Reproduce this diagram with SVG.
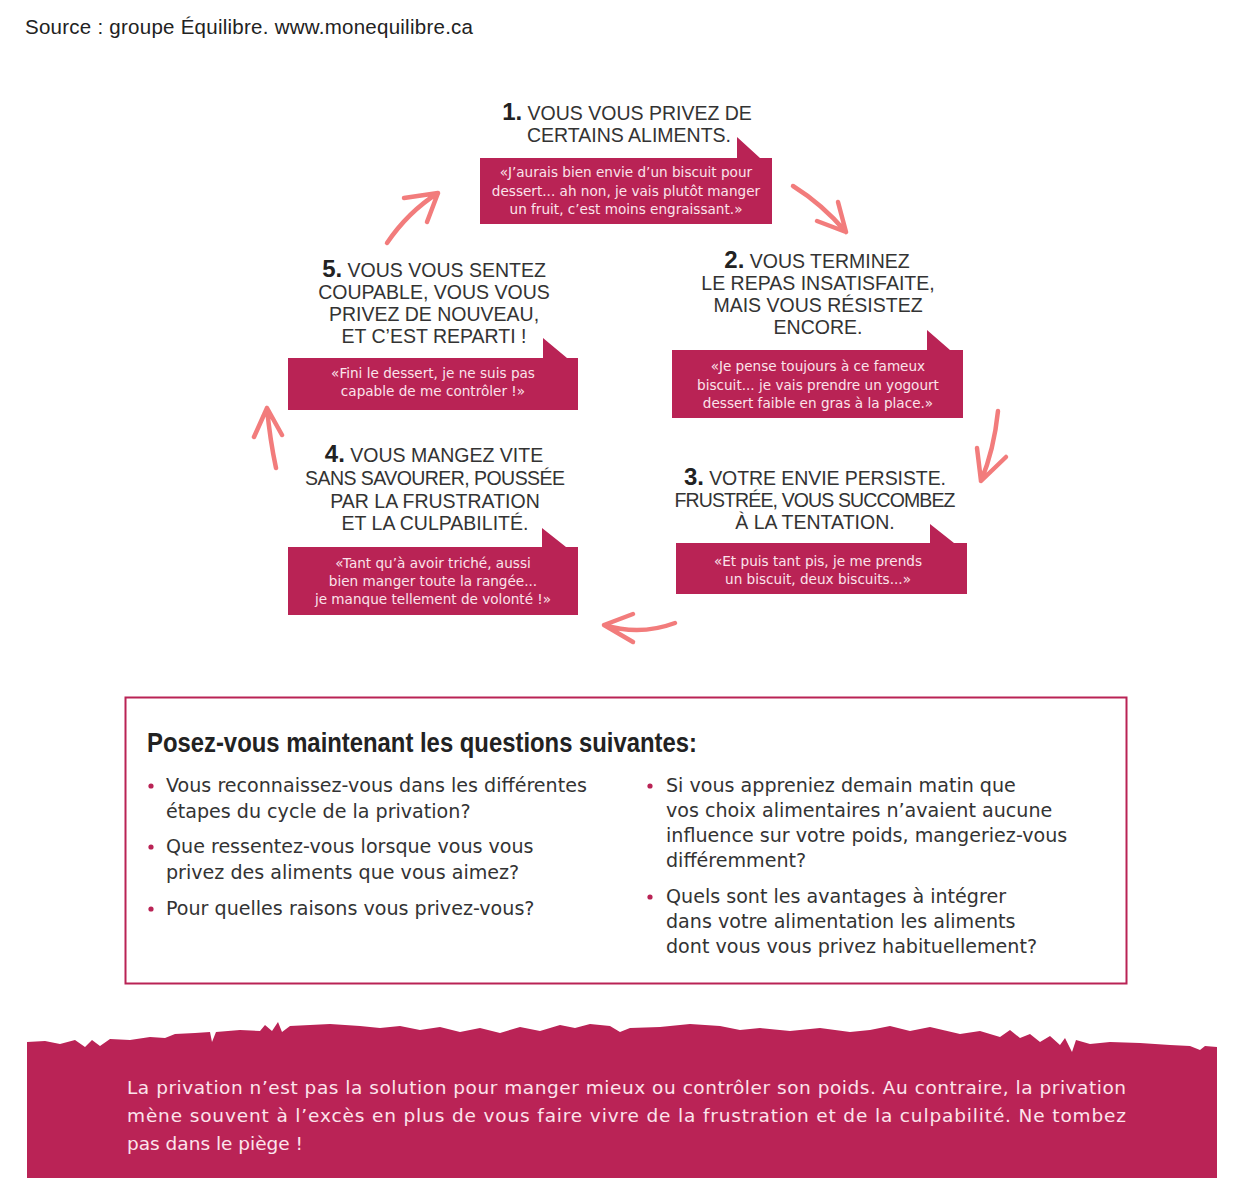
<svg xmlns="http://www.w3.org/2000/svg" width="1236" height="1200" viewBox="0 0 1236 1200">
<style>
.title{font-family:"Liberation Sans",Arial,sans-serif;font-size:19.5px;fill:#333;text-anchor:middle}
.num{font-family:"Liberation Sans",Arial,sans-serif;font-weight:bold;font-size:24px;fill:#222}
.quote{font-family:"DejaVu Sans",Verdana,sans-serif;font-size:13.6px;fill:#FBE3EB;text-anchor:middle}
.box{fill:#B92355}
.q{font-family:"DejaVu Sans",Verdana,sans-serif;font-size:19.1px;fill:#333}
.bul{fill:#B92355}
.ban{font-family:"DejaVu Sans",Verdana,sans-serif;font-size:18.5px;fill:#FCE4EC}
.arr{fill:none;stroke:#F27C7C;stroke-width:4.5;stroke-linecap:round;stroke-linejoin:round}
</style>
<rect width="1236" height="1200" fill="#fff"/>
<text x="25" y="34" font-family="Liberation Sans,Arial,sans-serif" font-size="20.5" fill="#222" textLength="448">Source : groupe Équilibre. www.monequilibre.ca</text>

<g id="node1">
<text class="title" x="627" y="120"><tspan class="num">1.</tspan> VOUS VOUS PRIVEZ DE</text>
<text class="title" x="629" y="142">CERTAINS ALIMENTS.</text>
<path class="box" d="M480,158 L737,158 L737,137 L760,158 L772,158 L772,224 L480,224 Z"/>
<text class="quote" x="626" y="177">«J’aurais bien envie d’un biscuit pour</text>
<text class="quote" x="626" y="196">dessert... ah non, je vais plutôt manger</text>
<text class="quote" x="626" y="214">un fruit, c’est moins engraissant.»</text>
</g>

<g id="node2">
<text class="title" x="817" y="268"><tspan class="num">2.</tspan> VOUS TERMINEZ</text>
<text class="title" x="818" y="290">LE REPAS INSATISFAITE,</text>
<text class="title" x="818" y="312">MAIS VOUS RÉSISTEZ</text>
<text class="title" x="818" y="334">ENCORE.</text>
<path class="box" d="M672,350 L927,350 L927,330 L950,350 L963,350 L963,418 L672,418 Z"/>
<text class="quote" x="818" y="371">«Je pense toujours à ce fameux</text>
<text class="quote" x="818" y="390">biscuit... je vais prendre un yogourt</text>
<text class="quote" x="818" y="408">dessert faible en gras à la place.»</text>
</g>

<g id="node3">
<text class="title" x="815" y="485" textLength="262"><tspan class="num">3.</tspan> VOTRE ENVIE PERSISTE.</text>
<text class="title" x="815" y="507" textLength="281">FRUSTRÉE, VOUS SUCCOMBEZ</text>
<text class="title" x="815" y="529">À LA TENTATION.</text>
<path class="box" d="M676,543 L930,543 L930,524 L954,543 L967,543 L967,594 L676,594 Z"/>
<text class="quote" x="818" y="566">«Et puis tant pis, je me prends</text>
<text class="quote" x="818" y="584">un biscuit, deux biscuits...»</text>
</g>

<g id="node4">
<text class="title" x="434" y="462"><tspan class="num">4.</tspan> VOUS MANGEZ VITE</text>
<text class="title" x="435" y="485" textLength="260">SANS SAVOURER, POUSSÉE</text>
<text class="title" x="435" y="508">PAR LA FRUSTRATION</text>
<text class="title" x="435" y="530">ET LA CULPABILITÉ.</text>
<path class="box" d="M288,547 L542,547 L542,528 L566,547 L578,547 L578,615 L288,615 Z"/>
<text class="quote" x="433" y="568">«Tant qu’à avoir triché, aussi</text>
<text class="quote" x="433" y="586">bien manger toute la rangée...</text>
<text class="quote" x="433" y="604">je manque tellement de volonté !»</text>
</g>

<g id="node5">
<text class="title" x="434" y="277"><tspan class="num">5.</tspan> VOUS VOUS SENTEZ</text>
<text class="title" x="434" y="299">COUPABLE, VOUS VOUS</text>
<text class="title" x="434" y="321">PRIVEZ DE NOUVEAU,</text>
<text class="title" x="434" y="343">ET C’EST REPARTI !</text>
<path class="box" d="M288,358 L543,358 L543,338 L567,358 L578,358 L578,410 L288,410 Z"/>
<text class="quote" x="433" y="378">«Fini le dessert, je ne suis pas</text>
<text class="quote" x="433" y="396">capable de me contrôler !»</text>
</g>

<g id="connectors">
<path class="arr" d="M793,186 Q822,204 846,232 M838,202 L846,232 L817,221"/>
<path class="arr" d="M998,411 Q994,450 981,481 M977,448 L981,481 L1006,457"/>
<path class="arr" d="M675,623 Q640,636 604,625 M633,614 L604,625 L633,642"/>
<path class="arr" d="M276,468 Q270,440 267,408 M254,437 L267,408 L282,435"/>
<path class="arr" d="M387,243 Q408,212 438,193 M404,198 L438,193 L427,222"/>
</g>

<g id="questions">
<rect x="125.5" y="697.5" width="1001" height="286" fill="none" stroke="#B92355" stroke-width="2"/>
<text x="147" y="752" font-family="Liberation Sans,Arial,sans-serif" font-weight="bold" font-size="28" fill="#222" textLength="550" lengthAdjust="spacingAndGlyphs">Posez-vous maintenant les questions suivantes:</text>
<circle class="bul" cx="151" cy="786" r="2.6"/>
<text class="q" x="166" y="792">Vous reconnaissez-vous dans les différentes</text>
<text class="q" x="166" y="818">étapes du cycle de la privation?</text>
<circle class="bul" cx="151" cy="847" r="2.6"/>
<text class="q" x="166" y="853">Que ressentez-vous lorsque vous vous</text>
<text class="q" x="166" y="879">privez des aliments que vous aimez?</text>
<circle class="bul" cx="151" cy="909" r="2.6"/>
<text class="q" x="166" y="915">Pour quelles raisons vous privez-vous?</text>
<circle class="bul" cx="650" cy="786" r="2.6"/>
<text class="q" x="666" y="792">Si vous appreniez demain matin que</text>
<text class="q" x="666" y="817">vos choix alimentaires n’avaient aucune</text>
<text class="q" x="666" y="842">influence sur votre poids, mangeriez-vous</text>
<text class="q" x="666" y="867">différemment?</text>
<circle class="bul" cx="650" cy="897" r="2.6"/>
<text class="q" x="666" y="903">Quels sont les avantages à intégrer</text>
<text class="q" x="666" y="928">dans votre alimentation les aliments</text>
<text class="q" x="666" y="953">dont vous vous privez habituellement?</text>
</g>

<g id="banner">
<path fill="#BA2356" d="M27,1178 L27,1042 L45,1041 L60,1044 L75,1040 L85,1047 L92,1040 L100,1046 L110,1039 L130,1040 L150,1037 L165,1038 L175,1034 L195,1033 L210,1032 L212,1042 L216,1032 L240,1030 L260,1031 L265,1025 L272,1031 L278,1022 L282,1032 L290,1026 L310,1025 L330,1024 L360,1026 L380,1028 L400,1026 L420,1030 L440,1027 L460,1032 L480,1028 L500,1033 L520,1027 L540,1031 L560,1025 L575,1028 L590,1024 L610,1026 L620,1032 L630,1028 L660,1027 L690,1024 L720,1026 L740,1030 L760,1028 L790,1031 L820,1028 L850,1032 L870,1030 L890,1026 L910,1031 L930,1027 L960,1034 L980,1031 L1000,1037 L1010,1030 L1020,1038 L1030,1034 L1040,1042 L1050,1036 L1060,1045 L1065,1038 L1072,1052 L1076,1040 L1090,1044 L1110,1042 L1140,1043 L1170,1045 L1190,1046 L1200,1050 L1205,1046 L1217,1047 L1217,1178 Z"/>
<text class="ban" x="127" y="1094" textLength="999">La privation n’est pas la solution pour manger mieux ou contrôler son poids. Au contraire, la privation</text>
<text class="ban" x="127" y="1122" textLength="999">mène souvent à l’excès en plus de vous faire vivre de la frustration et de la culpabilité. Ne tombez</text>
<text class="ban" x="127" y="1150">pas dans le piège !</text>
</g>
</svg>
